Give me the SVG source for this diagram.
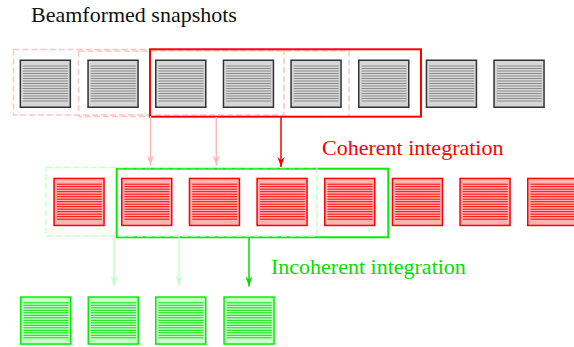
<svg xmlns="http://www.w3.org/2000/svg" xmlns:xlink="http://www.w3.org/1999/xlink" width="574" height="347" viewBox="0 0 574 347">
  <style>
    text { font-family: "Times New Roman", "Liberation Serif", Times, serif; font-size: 22px; }
    .win-gray-dash { fill: none; stroke: #ffc4c4; stroke-width: 1.5; stroke-dasharray: 6 3; }
    .win-red { fill: none; stroke: #ff0000; stroke-width: 2; }
    .win-green-dash { fill: none; stroke: #c8ffc8; stroke-width: 1.5; stroke-dasharray: 6 3; }
    .win-green { fill: none; stroke: #00ee00; stroke-width: 2; }
    .arr-pink { stroke: #ffb8b8; stroke-width: 1.5; fill: none; }
    .arr-red { stroke: #ff0000; stroke-width: 1.5; fill: none; }
    .arr-lgreen { stroke: #c4ffc4; stroke-width: 1.5; fill: none; }
    .arr-green { stroke: #00dd00; stroke-width: 1.5; fill: none; }
  </style>
  <defs>
    <!-- horizontal rulings shared by every snapshot tile -->
    <g id="rulings">
      <line x1="3.5" x2="48.5" y1="6.5" y2="6.5"/>
      <line x1="3.5" x2="48.5" y1="9" y2="9"/>
      <line x1="3.5" x2="48.5" y1="11.5" y2="11.5"/>
      <line x1="3.5" x2="48.5" y1="14" y2="14"/>
      <line x1="3.5" x2="48.5" y1="16.5" y2="16.5"/>
      <line x1="3.5" x2="48.5" y1="19" y2="19"/>
      <line x1="3.5" x2="48.5" y1="21.5" y2="21.5"/>
      <line x1="3.5" x2="48.5" y1="24" y2="24"/>
      <line x1="3.5" x2="48.5" y1="26.5" y2="26.5"/>
      <line x1="3.5" x2="48.5" y1="29" y2="29"/>
      <line x1="3.5" x2="48.5" y1="31.5" y2="31.5"/>
      <line x1="3.5" x2="48.5" y1="34" y2="34"/>
      <line x1="3.5" x2="48.5" y1="36.5" y2="36.5"/>
      <line x1="3.5" x2="48.5" y1="39" y2="39"/>
      <line x1="3.5" x2="48.5" y1="41.5" y2="41.5"/>
    </g>
    <g id="tile-gray">
      <rect x="0.75" y="0.75" width="50" height="47" fill="#d6d6d6" stroke="#333333" stroke-width="1.5"/>
      <use xlink:href="#rulings" stroke="#8c8c8c" stroke-width="1"/>
    </g>
    <g id="tile-red">
      <rect x="0.75" y="0.75" width="50" height="47" fill="#ffb4b4" stroke="#ff0000" stroke-width="1.5"/>
      <use xlink:href="#rulings" stroke="#ff0000" stroke-width="1"/>
    </g>
    <g id="tile-green">
      <rect x="0.75" y="0.75" width="50" height="47" fill="#c8ffc8" stroke="#00ee00" stroke-width="1.5"/>
      <use xlink:href="#rulings" stroke="#00e000" stroke-width="1"/>
    </g>
    <marker id="head-red" markerUnits="userSpaceOnUse" markerWidth="8" markerHeight="11" refX="4" refY="10" orient="0" viewBox="0 0 8 11">
      <path d="M0.5,0 L4,10 L7.5,0 L4,3 Z" fill="#ff0000"/>
    </marker>
    <marker id="head-pink" markerUnits="userSpaceOnUse" markerWidth="8" markerHeight="11" refX="4" refY="10" orient="0" viewBox="0 0 8 11">
      <path d="M0.5,0 L4,10 L7.5,0 L4,3 Z" fill="#ffb8b8"/>
    </marker>
    <marker id="head-green" markerUnits="userSpaceOnUse" markerWidth="8" markerHeight="11" refX="4" refY="10" orient="0" viewBox="0 0 8 11">
      <path d="M0.5,0 L4,10 L7.5,0 L4,3 Z" fill="#00dd00"/>
    </marker>
    <marker id="head-lgreen" markerUnits="userSpaceOnUse" markerWidth="8" markerHeight="11" refX="4" refY="10" orient="0" viewBox="0 0 8 11">
      <path d="M0.5,0 L4,10 L7.5,0 L4,3 Z" fill="#c4ffc4"/>
    </marker>
  </defs>

  <rect width="574" height="347" fill="#ffffff"/>

  <!-- labels -->
  <text x="31" y="22" fill="#111111">Beamformed snapshots</text>
  <text x="322" y="155" fill="#ff0000">Coherent integration</text>
  <text x="271" y="274" fill="#00e000">Incoherent integration</text>

  <!-- integration windows -->
  <g id="windows">
    <rect class="win-gray-dash" x="13.5" y="49.5" width="270.5" height="65.5"/>
    <rect class="win-gray-dash" x="78.5" y="51" width="270.5" height="65.5"/>
    <rect class="win-red" x="150" y="49.3" width="271" height="67.4"/>
    <rect class="win-green" x="116.7" y="168.7" width="271.6" height="68.6"/>
    <rect class="win-green-dash" x="46" y="167.5" width="270.7" height="68.5"/>
  </g>

  <!-- beamformed snapshots -->
  <g id="snapshot-1"><use xlink:href="#tile-gray" x="19.6" y="59.5"/></g>
  <g id="snapshot-2"><use xlink:href="#tile-gray" x="87.3" y="59.5"/></g>
  <g id="snapshot-3"><use xlink:href="#tile-gray" x="155" y="59.5"/></g>
  <g id="snapshot-4"><use xlink:href="#tile-gray" x="222.7" y="59.5"/></g>
  <g id="snapshot-5"><use xlink:href="#tile-gray" x="290.3" y="59.5"/></g>
  <g id="snapshot-6"><use xlink:href="#tile-gray" x="358" y="59.5"/></g>
  <g id="snapshot-7"><use xlink:href="#tile-gray" x="425.7" y="59.5"/></g>
  <g id="snapshot-8"><use xlink:href="#tile-gray" x="493.3" y="59.5"/></g>

  <!-- coherently integrated snapshots -->
  <g id="coherent-1"><use xlink:href="#tile-red" x="53.3" y="177.7"/></g>
  <g id="coherent-2"><use xlink:href="#tile-red" x="121" y="177.7"/></g>
  <g id="coherent-3"><use xlink:href="#tile-red" x="188.7" y="177.7"/></g>
  <g id="coherent-4"><use xlink:href="#tile-red" x="256.3" y="177.7"/></g>
  <g id="coherent-5"><use xlink:href="#tile-red" x="324" y="177.7"/></g>
  <g id="coherent-6"><use xlink:href="#tile-red" x="391.7" y="177.7"/></g>
  <g id="coherent-7"><use xlink:href="#tile-red" x="459.3" y="177.7"/></g>
  <g id="coherent-8"><use xlink:href="#tile-red" x="527" y="177.7"/></g>

  <!-- incoherently integrated snapshots -->
  <g id="incoherent-1"><use xlink:href="#tile-green" x="20" y="296.3"/></g>
  <g id="incoherent-2"><use xlink:href="#tile-green" x="87.5" y="296.3"/></g>
  <g id="incoherent-3"><use xlink:href="#tile-green" x="155" y="296.3"/></g>
  <g id="incoherent-4"><use xlink:href="#tile-green" x="223.3" y="296.3"/></g>

  <!-- connectors -->
  <g id="connectors">
    <line class="arr-pink" x1="150.5" y1="116" x2="150.5" y2="165.5" marker-end="url(#head-pink)"/>
    <line class="arr-pink" x1="216.3" y1="117" x2="216.3" y2="165.5" marker-end="url(#head-pink)"/>
    <line class="arr-red" x1="281" y1="116.7" x2="281" y2="167" marker-end="url(#head-red)"/>
    <line class="arr-lgreen" x1="114" y1="236.5" x2="114" y2="286" marker-end="url(#head-lgreen)"/>
    <line class="arr-lgreen" x1="179" y1="236.5" x2="179" y2="286" marker-end="url(#head-lgreen)"/>
    <line class="arr-green" x1="249" y1="237.3" x2="249" y2="286.5" marker-end="url(#head-green)"/>
  </g>
</svg>
